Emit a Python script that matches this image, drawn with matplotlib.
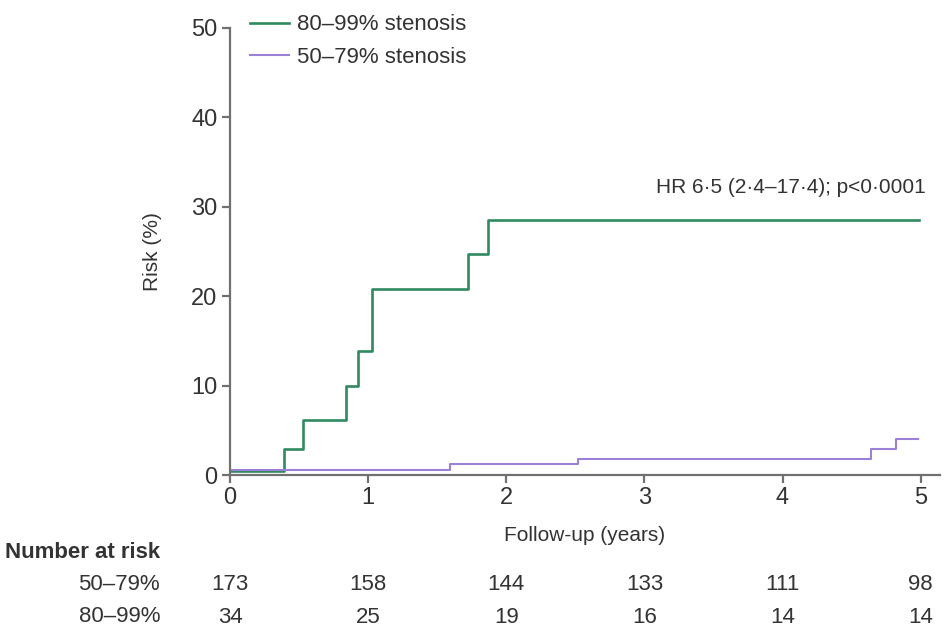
import matplotlib.pyplot as plt
from matplotlib.lines import Line2D

plt.rcParams['font.family'] = ['Liberation Sans', 'DejaVu Sans']

# Kaplan-Meier style cumulative risk (%), step after each time
t_severe = [0, 0.39, 0.53, 0.84, 0.93, 1.03, 1.72, 1.87, 4.99]
risk_severe = [0.4, 2.9, 6.1, 9.9, 13.9, 20.8, 24.7, 28.5, 28.5]
t_moderate = [0, 1.59, 2.52, 4.64, 4.82, 4.98]
risk_moderate = [0.6, 1.2, 1.8, 2.9, 4.0, 4.0]

years = [0, 1, 2, 3, 4, 5]
at_risk_moderate = [173, 158, 144, 133, 111, 98]
at_risk_severe = [34, 25, 19, 16, 14, 14]

green = '#2f8a5f'
purple = '#9a80d6'
txt = '#333333'
axcol = '#707070'

fig = plt.figure(figsize=(9.48, 6.35), dpi=100)
ax = fig.add_axes([230 / 948, 160 / 635, 710 / 948, 447 / 635])

ax.step(t_severe, risk_severe, where='post', color=green, lw=1.9)
ax.step(t_moderate, risk_moderate, where='post', color=purple, lw=1.5)

ax.set_xlim(0, 5.14)
ax.set_ylim(0, 50)
ax.set_xticks(years)
ax.set_yticks([0, 10, 20, 30, 40, 50])
for s in ['top', 'right']:
    ax.spines[s].set_visible(False)
for s in ['left', 'bottom']:
    ax.spines[s].set_color(axcol)
    ax.spines[s].set_linewidth(1.6)
ax.tick_params(length=6, width=1.6, color=axcol, labelsize=17, labelcolor=txt, pad=3)

ax.set_ylabel('Risk (%)', fontsize=15, color=txt, labelpad=21)
ax.set_xlabel('Follow-up (years)', fontsize=15, color=txt, labelpad=12)

ax.text(5.04, 32.2, 'HR 6·5 (2·4–17·4); p<0·0001', ha='right', va='center',
        fontsize=15, color=txt)

handles = [Line2D([], [], color=green, lw=1.9), Line2D([], [], color=purple, lw=1.5)]
ax.legend(handles, ['80–99% stenosis', '50–79% stenosis'], loc='upper left',
          bbox_to_anchor=(0.0, 1.075), frameon=False, fontsize=16,
          handlelength=1.75, handletextpad=0.35, labelspacing=0.5,
          labelcolor=txt)

# number at risk table
tr = ax.get_xaxis_transform()
fig.text(5 / 948, 1 - 552 / 635, 'Number at risk', fontsize=16, fontweight='bold',
         color=txt, va='center', ha='left')
fig.text(160 / 948, 1 - 585 / 635, '50–79%', fontsize=16, color=txt, va='center', ha='right')
fig.text(160 / 948, 1 - 617 / 635, '80–99%', fontsize=16, color=txt, va='center', ha='right')
for x, a, b in zip(years, at_risk_moderate, at_risk_severe):
    ax.text(x, -0.246, str(a), transform=tr, ha='center', va='center', fontsize=16, color=txt)
    ax.text(x, -0.318, str(b), transform=tr, ha='center', va='center', fontsize=16, color=txt)

fig.savefig('out.png', dpi=100)
